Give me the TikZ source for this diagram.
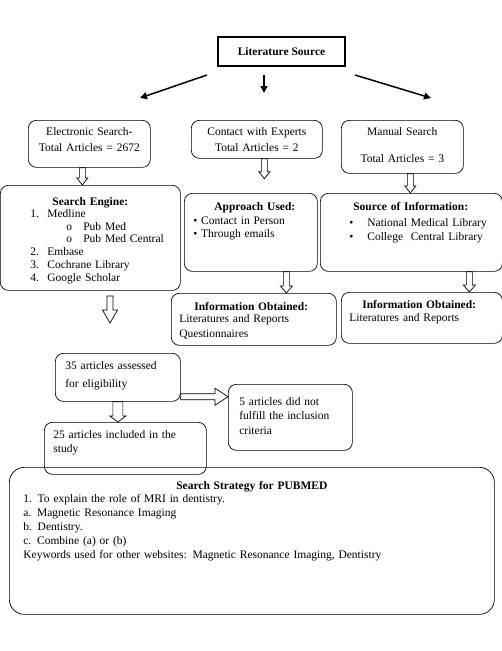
\documentclass[tikz,border=0pt]{standalone}
\usepackage{fontspec}
\setmainfont{Liberation Serif}
\usetikzlibrary{calc,arrows.meta}
\tikzstyle{srcbox}=[draw, line width=1.5pt, minimum width=127pt, minimum height=29pt, inner sep=0pt]
\tikzstyle{rbox}=[draw, line width=0.7pt, rounded corners=8pt, inner sep=0pt, anchor=north west, align=left]
\tikzstyle{heavy}=[line width=1.5pt, -{Triangle[length=7pt,width=7pt]}]
% outline block arrow: shaft half width, head half width, head length
\tikzset{hollow/.style n args={3}{line width=0.7pt, to path={
  let \p1=($(\tikztotarget)-(\tikztostart)$), \n1={atan2(\y1,\x1)}, \n2={veclen(\x1,\y1)-#3} in
  ($(\tikztostart)+(\n1+90:#1pt)$) -- ++(\n1:\n2*1pt) -- ++(\n1+90:#2pt-#1pt) -- (\tikztotarget)
  -- ($(\tikztostart)+(\n1:\n2*1pt)+(\n1-90:#2pt)$) -- ++(\n1+90:#2pt-#1pt)
  -- ($(\tikztostart)+(\n1-90:#1pt)$) -- cycle}}}

\begin{document}
\begin{tikzpicture}[x=1pt, y=-1pt, font=\fontsize{11.5}{14}\selectfont]
  \useasboundingbox (0,0) rectangle (502,651);
  % top level
  \node[srcbox] (lit) at (281.5,51.5) {\textbf{Literature Source}};
  \node[rbox, align=center, text width=122pt, text height=15pt, text depth=32pt] (elec) at (28,120)
    {Electronic Search-\\[2pt]Total Articles = 2672};
  \node[rbox, align=center, text width=131pt, text height=15pt, text depth=23pt] (expert) at (191,120)
    {Contact with Experts\\[2pt]Total Articles = 2};
  \node[rbox, align=center, text width=122pt, text height=15pt, text depth=38pt] (manual) at (341,120)
    {Manual Search\\[13pt]Total Articles = 3};
  \coordinate (la) at (207,75);  \coordinate (lb) at (140,98);
  \coordinate (ma) at (264,75);  \coordinate (mb) at (264,93);
  \coordinate (ra) at (355,75);  \coordinate (rb) at (431,98);
  \draw[heavy] (la) -- (lb);
  \draw[heavy] (ma) -- (mb);
  \draw[heavy] (ra) -- (rb);
  % second level
  \node[rbox, text width=180pt, text height=20pt, text depth=85pt, font=\fontsize{11.5}{12.8}\selectfont] (engine) at (0,185)
    {\makebox[\linewidth]{\textbf{Search Engine:}}\\[-0.8pt]
     \hspace*{30pt}\makebox[17pt][l]{1.}Medline\\
     \hspace*{66pt}\makebox[17pt][l]{o}Pub Med\\
     \hspace*{66pt}\makebox[17pt][l]{o}Pub Med Central\\
     \hspace*{30pt}\makebox[17pt][l]{2.}Embase\\
     \hspace*{30pt}\makebox[17pt][l]{3.}Cochrane Library\\
     \hspace*{30pt}\makebox[17pt][l]{4.}Google Scholar};
  \node[rbox, text width=133pt, text height=17pt, text depth=61pt] (approach) at (184,193)
    {\makebox[\linewidth]{\textbf{Approach Used:}\hspace*{-8pt}}\\
     \hspace*{9pt}\textbullet\ Contact in Person\\[-1pt]
     \hspace*{9pt}\textbullet\ Through emails};
  \node[rbox, text width=182pt, text height=17pt, text depth=61pt] (source) at (320,193)
    {\hspace*{33pt}\textbf{Source of Information:}\\[2pt]
     \hspace*{29pt}\makebox[18pt][l]{\textbullet}National Medical Library\\
     \hspace*{29pt}\makebox[18pt][l]{\textbullet}College~ Central Library};
  \coordinate (e1) at ($(elec.south)+(-7,0)$);
  \coordinate (e2) at (e1 |- engine.north);
  \coordinate (x1) at ($(expert.south)+(7.5,0)$);
  \coordinate (x2) at ($(x1)+(0,20)$);
  \coordinate (m1) at ($(manual.south)+(8,0)$);
  \coordinate (m2) at (m1 |- source.north);
  \draw[hollow={3}{5.5}{7}] (e1) to (e2);
  \draw[hollow={3}{5.5}{7}] (x1) to (x2);
  \draw[hollow={3}{5.5}{7}] (m1) to (m2);
  % information obtained
  \node[rbox, inner xsep=8pt, text width=149pt, text height=17pt, text depth=35pt] (info1) at (171,293)
    {\hspace*{15pt}\textbf{Information Obtained:}\\[-2pt]
     Literatures and Reports\\[1pt]
     Questionnaires};
  \node[rbox, inner xsep=8pt, text width=145pt, text height=16pt, text depth=35pt] (info2) at (341,292)
    {\hspace*{13pt}\textbf{Information Obtained:}\\[-1pt]
     Literatures and Reports};
  \coordinate (a1) at ($(approach.south)+(35.5,0)$);
  \coordinate (a2) at (a1 |- info1.north);
  \coordinate (s1) at ($(source.south)+(58,0)$);
  \coordinate (s2) at (s1 |- info2.north);
  \draw[hollow={3}{6}{7}] (a1) to (a2);
  \draw[hollow={3}{6}{7}] (s1) to (s2);
  \coordinate (f1) at (110,296);
  \coordinate (f2) at (110,323);
  \draw[hollow={3}{7.5}{13}] (f1) to (f2);
  % screening
  \node[rbox, inner xsep=10pt, text width=105pt, text height=16pt, text depth=32pt] (assess) at (55,353)
    {35 articles assessed\\[4pt]for eligibility};
  \node[rbox, inner xsep=11pt, text width=102pt, text height=21pt, text depth=45pt] (excl) at (228,384)
    {5 articles did not\\fulfill the inclusion\\[1pt]criteria};
  \node[rbox, inner xsep=9pt, text width=144pt, text height=16pt, text depth=36pt] (incl) at (44,422)
    {25 articles included in the\\study};
  \coordinate (h1) at ($(assess.south east)+(0,-5)$);
  \coordinate (h2) at (h1 -| excl.west);
  \draw[hollow={3}{8.5}{13}] (h1) to (h2);
  \draw[hollow={5}{8}{6}] (assess.south) to (assess.south |- incl.north);
  % search strategy
  \node[rbox, rounded corners=15pt, inner xsep=14pt, text width=457pt, text height=22pt, text depth=125pt] (strategy) at (9,467)
    {\makebox[\linewidth]{\textbf{Search Strategy for PUBMED}}\\[-1pt]
     1. To explain the role of MRI in dentistry.\\
     a. Magnetic Resonance Imaging\\
     b. Dentistry.\\
     c. Combine (a) or (b)\\
     Keywords used for other websites: Magnetic Resonance Imaging, Dentistry};
\end{tikzpicture}
\end{document}
